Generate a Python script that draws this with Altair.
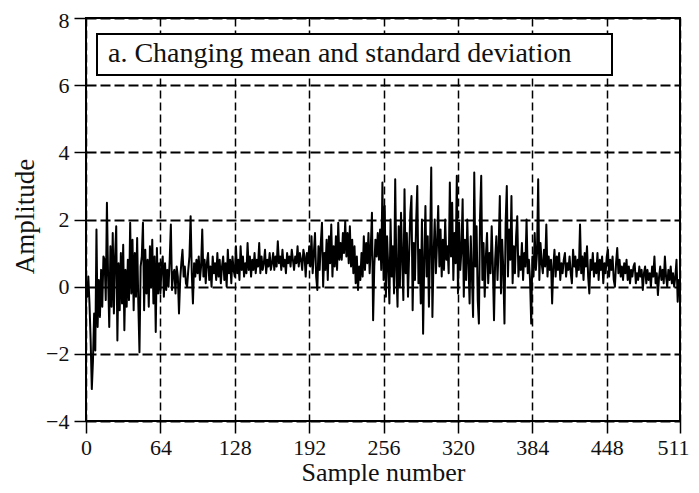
import altair as alt
import pandas as pd

# Amplitude values (512 samples, 16 per row)
amplitude = [
    0.1, -0.3, 0.3, -0.5, -1.6, -3.05, -2.2, -0.8, -1.9, 1.7, -1.2, 0.2, -0.9, 0.5, -0.6, 0.9,
    0.8, -0.4, 2.5, 0.3, -1.2, 1.2, -0.6, 1.6, -0.8, 0.9, 1.8, -1.6, 0.7, -0.7, 1.0, -0.5,
    1.25, -1.3, 0.5, -0.6, 0.8, -0.4, 1.9, -0.2, 1.4, -0.7, 1.0, -0.3, 1.45, -0.5, -1.95, 0.6,
    0.9, 1.9, -0.7, 1.1, -0.2, 0.8, -0.6, 1.2, 0.0, 1.4, -0.5, 0.9, -1.35, 1.15, -0.2, 0.7,
    -0.2, 0.6, 0.9, -0.3, 0.7, -0.1, 0.5, 0.0, 0.8, 1.85, -0.1, 0.4, 0.5, -0.2, 0.6, 0.3,
    -0.8, 0.2, 0.7, 1.1, 0.3, 0.6, 0.1, 0.0, 0.5, 0.9, 2.1, 0.4, -0.5, 0.7, 0.3, 0.8,
    0.4, 0.9, 0.2, 0.6, 1.7, 0.3, 0.8, 0.1, 0.7, 1.0, 0.2, 0.6, 0.0, 0.9, 0.4, 0.7,
    0.2, 1.0, 0.3, 0.8, 0.1, 0.6, 0.9, 0.2, 0.7, 0.0, 1.1, 0.4, 0.8, 0.1, 0.9, 0.5,
    0.3, 1.2, 0.4, 0.8, 0.2, 1.2, 0.5, 0.9, 0.3, 0.7, 0.4, 1.3, 0.5, 0.9, 0.3, 0.8,
    0.5, 1.0, 0.4, 0.8, 0.6, 1.3, 0.4, 0.9, 0.5, 0.7, 1.1, 0.4, 0.8, 0.6, 1.0, 0.5,
    0.7, 1.0, 0.5, 0.9, 0.6, 1.35, 0.7, 0.9, 0.5, 1.1, 0.6, 0.8, 0.4, 1.0, 0.7, 0.9,
    0.6, 1.1, 0.8, 0.5, 0.9, 0.7, 1.2, 0.6, 1.0, 0.8, 0.5, 1.1, 0.9, 0.3, 1.0, 0.7,
    1.2, 0.6, 1.5, 0.4, 1.0, 1.6, 0.3, -0.1, 1.2, 0.5, 1.3, 1.9, 0.0, 1.0, 0.5, 1.4,
    0.2, 1.5, 0.7, 1.85, 0.3, 1.2, 0.6, 1.5, 0.5, 1.9, 0.8, 1.3, 0.8, 1.6, 1.0, 1.95,
    0.9, 1.6, 0.7, 1.8, 0.6, 1.4, 0.4, 1.2, 0.1, 0.9, -0.1, 0.6, 0.2, 1.0, 0.3, 1.5,
    0.5, 1.3, 0.7, 1.6, 0.4, 1.2, 2.2, -1.0, 0.6, 1.4, 0.9, 1.6, 0.8, 1.7, 0.5, 3.1,
    0.2, 2.4, -0.3, 1.5, 0.6, -0.5, 2.0, 0.3, 1.2, -0.2, 3.2, 0.5, -0.6, 1.8, 0.0, 2.2,
    0.8, -0.4, 2.9, 0.4, 1.6, -0.3, 1.0, 2.2, 2.7, -0.7, 1.3, 0.2, 1.9, 3.0, 0.1, 1.1,
    -0.5, 2.0, -1.4, 0.8, 2.4, 0.3, 1.5, -0.6, 1.2, 3.55, -0.9, 0.9, 2.0, 0.4, 1.3, 2.4,
    0.6, 1.7, 0.3, 1.4, 0.5, 2.0, 0.8, 1.2, 0.4, 3.1, 0.9, 2.5, 0.2, 1.6, 0.7, 3.3,
    -0.2, 1.9, 0.5, 1.1, 2.6, -0.3, 1.4, 0.2, 2.0, 0.7, -0.5, 1.5, 0.3, -0.9, 3.4, 0.6,
    1.8, -0.4, -1.1, 2.1, 3.3, 0.2, 1.3, -0.3, 0.9, 1.6, 0.1, 1.0, 0.4, 1.8, 0.6, -1.0,
    0.8, 1.5, 0.2, 1.2, 2.7, -0.2, 1.4, 0.5, -1.1, 1.9, 3.0, 0.3, 1.7, 0.8, 2.7, 0.1,
    1.2, 0.4, 1.5, 2.1, 0.3, 0.9, 0.5, 1.3, 0.2, 1.0, 0.6, 2.0, 0.4, 0.8, 0.2, -1.1,
    0.9, 0.3, 1.6, 0.5, 1.0, 3.2, 0.2, 1.3, 0.7, 0.4, 1.1, 0.6, 1.85, 0.3, 0.9, 0.5,
    0.8, -0.5, 0.6, 1.1, 0.3, 0.9, 0.5, 1.0, 0.2, 0.7, 0.4, 0.8, 1.0, 0.3, 0.7, 0.5,
    0.9, 0.4, 0.1, 1.1, 0.6, 0.9, 0.3, 0.8, 0.5, 1.85, 0.4, 0.9, 0.2, 1.0, 0.6, 1.2,
    0.3, -0.2, 0.8, 0.5, 1.0, 0.3, 0.7, 0.4, 1.0, 0.2, 0.8, 0.5, 0.9, 0.1, 0.7, 0.4,
    0.9, 1.1, 0.3, 0.8, 0.5, 0.9, 0.2, 0.0, 0.7, 1.15, 0.4, 0.8, 0.3, 0.6, 0.2, 0.7,
    0.4, 0.8, 0.2, 0.6, 0.1, 0.5, 0.3, 0.6, 0.7, 0.1, 0.4, 0.2, 0.6, 0.3, 0.5, -0.1,
    0.4, 0.6, 0.1, 0.5, 0.2, 0.4, 0.0, 0.6, 0.3, 0.9, 0.1, 0.4, -0.25, 0.3, 0.6, 0.2,
    0.5, 0.1, 0.9, 0.3, 0.0, 0.5, 0.2, 0.6, 0.1, 0.4, 0.0, 0.3, 0.8, -0.45, 0.2, 0.1,
]
sample_number = list(range(len(amplitude)))

x_ticks = [0, 64, 128, 192, 256, 320, 384, 448, 511]
y_ticks = [-4, -2, 0, 2, 4, 6, 8]
panel_label = ["a. Changing mean and standard deviation"]

FONT = "Liberation Serif"
INK = "#111111"

df = pd.DataFrame({"Sample": sample_number, "Amplitude": amplitude})
label_df = pd.DataFrame({"label": panel_label})

line = alt.Chart(df).mark_line(color="black", strokeWidth=2, strokeJoin="round").encode(
    x=alt.X(
        "Sample:Q",
        scale=alt.Scale(domain=[0, 511], nice=False, zero=False),
        axis=alt.Axis(
            values=x_ticks, title="Sample number", grid=True,
            gridDash=[8, 4], gridColor="black", gridWidth=1.5, gridOpacity=1,
            domain=False, ticks=True, tickColor="black", tickSize=12, tickWidth=1.5,
            labelFont=FONT, labelFontSize=22, labelColor=INK, labelPadding=4,
            labelFlush=False, labelOverlap=False,
            labelOffset={"condition": {"test": "datum.value == 511", "value": -7}, "value": 0},
            titleFont=FONT, titleFontSize=26, titleFontWeight="normal", titleColor=INK,
            titleY=59, titleBaseline="alphabetic",
        ),
    ),
    y=alt.Y(
        "Amplitude:Q",
        scale=alt.Scale(domain=[-4, 8], nice=False, zero=False),
        axis=alt.Axis(
            values=y_ticks, title="Amplitude", grid=True,
            gridDash=[10, 4], gridColor="black", gridWidth=1.8, gridOpacity=1,
            domain=False, ticks=True, tickColor="black", tickSize=12, tickWidth=1.5,
            labelFont=FONT, labelFontSize=22, labelColor=INK, labelPadding=5,
            labelFlush=False, labelOverlap=False,
            labelOffset={"condition": {"test": "datum.value == 8", "value": 2}, "value": 0},
            titleFont=FONT, titleFontSize=27, titleFontWeight="normal", titleColor=INK,
            titleX=-53, titleY=198, titleAngle=270, titleAlign="center",
            titleBaseline="alphabetic",
        ),
    ),
)

box = alt.Chart(label_df).mark_rect(fill="white", stroke="black", strokeWidth=2).encode(
    x=alt.value(11), x2=alt.value(526), y=alt.value(16), y2=alt.value(57)
)

text = alt.Chart(label_df).mark_text(
    font=FONT, fontSize=28, align="left", baseline="alphabetic", color=INK
).encode(x=alt.value(22), y=alt.value(44), text="label:N")

chart = alt.layer(line, box, text).properties(
    width=594,
    height=403,
    autosize=alt.AutoSizeParams(type="none"),
    padding={"left": 78, "top": 10, "right": 11, "bottom": 64},
    background="white",
).configure_view(stroke="black", strokeWidth=2)

chart.save("out.html", embed_options={"renderer": "svg", "actions": False})
